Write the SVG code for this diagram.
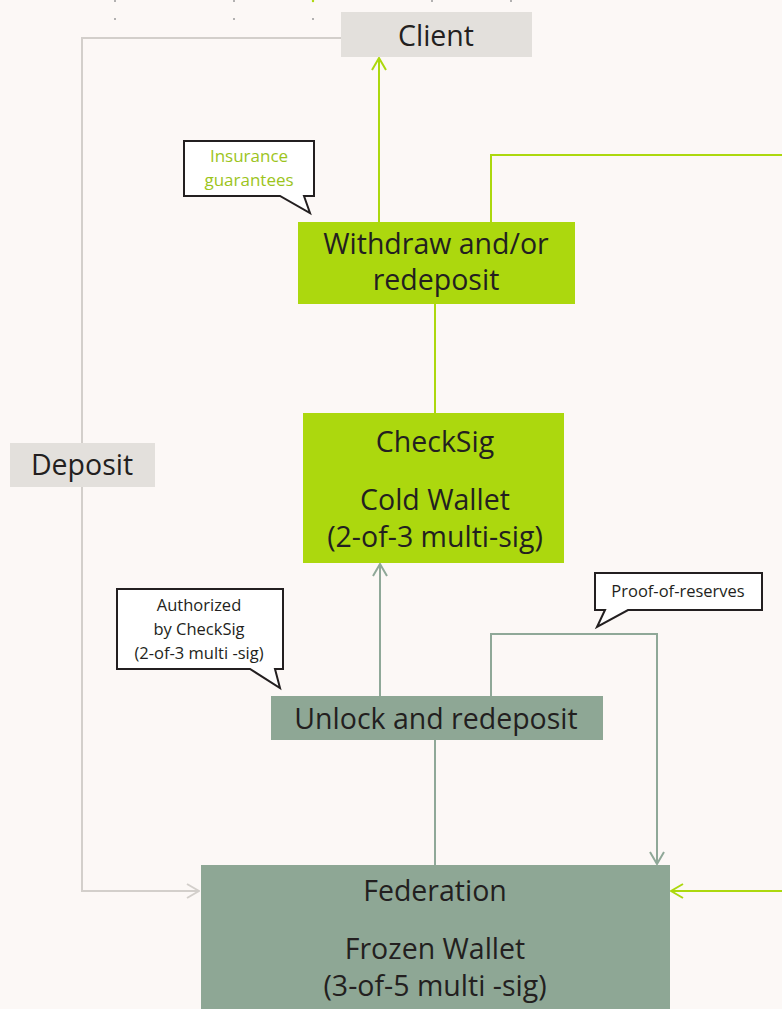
<svg xmlns="http://www.w3.org/2000/svg" width="782" height="1009" viewBox="0 0 782 1009">
<defs>
<style>
.t{font-family:"Open Sans","Noto Sans",sans-serif;fill:#231f20;text-anchor:middle}
.big{font-size:28.5px}
.sm{font-size:16.5px}
.g{fill:#9cc41c;font-size:17px}
.lime{fill:#acd80e}
.sage{fill:#8ea795}
.grey{fill:#e3e0dc}
.cl{fill:none;stroke-width:2}
.c1{stroke:#d3cfcb}
.c2{stroke:#acd80e}
.c3{stroke:#8fa898}
.call{fill:#ffffff;stroke:#231f20;stroke-width:2}
</style>
<marker id="ag" viewBox="0 0 14 16" refX="13" refY="8" markerWidth="14" markerHeight="16" markerUnits="userSpaceOnUse" orient="auto"><polyline points="1,1 13,8 1,15" fill="none" stroke="#acd80e" stroke-width="2"/></marker>
<marker id="as" viewBox="0 0 14 16" refX="13" refY="8" markerWidth="14" markerHeight="16" markerUnits="userSpaceOnUse" orient="auto"><polyline points="1,1 13,8 1,15" fill="none" stroke="#8fa898" stroke-width="2"/></marker>
<marker id="ay" viewBox="0 0 14 16" refX="13" refY="8" markerWidth="14" markerHeight="16" markerUnits="userSpaceOnUse" orient="auto"><polyline points="1,1 13,8 1,15" fill="none" stroke="#d3cfcb" stroke-width="2"/></marker>
</defs>
<rect width="782" height="1009" fill="#fcf8f6"/>
<g id="dots" fill="#9a9a9a">
<circle cx="115" cy="1" r="1"/><circle cx="234" cy="1" r="1"/><circle cx="313" cy="1" r="1.2" fill="#acd80e"/><circle cx="432" cy="1" r="1"/><circle cx="511" cy="1" r="1"/>
<circle cx="115" cy="19" r="1"/><circle cx="234" cy="19" r="1"/><circle cx="313" cy="19" r="1"/>
</g>
<g id="connectors">
<polyline class="cl c1" points="341,38 82,38 82,891 199,891" marker-end="url(#ay)"/>
<line class="cl c2" x1="379" y1="222" x2="379" y2="58" marker-end="url(#ag)"/>
<polyline class="cl c2" points="491,222 491,155 782,155"/>
<line class="cl c2" x1="782" y1="891" x2="671" y2="891" marker-end="url(#ag)"/>
<line class="cl c2" x1="435" y1="304" x2="435" y2="413"/>
<line class="cl c3" x1="380" y1="696" x2="380" y2="564" marker-end="url(#as)"/>
<polyline class="cl c3" points="491,696 491,634 657,634 657,864" marker-end="url(#as)"/>
<line class="cl c3" x1="435" y1="740" x2="435" y2="865"/>
</g>
<g id="client"><rect class="grey" x="341" y="12" width="191" height="45"/><text class="t big" x="436" y="46">Client</text></g>
<g id="deposit"><rect class="grey" x="10" y="443" width="145" height="44"/><text class="t big" x="82" y="475">Deposit</text></g>
<g id="withdraw"><rect class="lime" x="298" y="222" width="277" height="82"/><text class="t big" x="436" y="254">Withdraw and/or</text><text class="t big" x="436" y="290">redeposit</text></g>
<g id="checksig"><rect class="lime" x="303" y="413" width="261" height="150"/><text class="t big" x="435" y="452">CheckSig</text><text class="t big" x="435" y="510">Cold Wallet</text><text class="t big" x="435" y="547">(2-of-3 multi-sig)</text></g>
<g id="unlock"><rect class="sage" x="271" y="696" width="332" height="44"/><text class="t big" x="436" y="729">Unlock and redeposit</text></g>
<g id="federation"><rect class="sage" x="201" y="865" width="469" height="150"/><text class="t big" x="435" y="901">Federation</text><text class="t big" x="435" y="959">Frozen Wallet</text><text class="t big" x="435" y="996">(3-of-5 multi -sig)</text></g>
<g id="insurance"><path class="call" d="M184,141 H314 V196 H304 L310,213 L280,196 H184 Z"/><text class="t g" x="249" y="162">Insurance</text><text class="t g" x="249" y="186">guarantees</text></g>
<g id="authorized"><path class="call" d="M117,589 H283 V669 H275 L280,688 L250,669 H117 Z"/><text class="t sm" x="199" y="611">Authorized</text><text class="t sm" x="199" y="635">by CheckSig</text><text class="t sm" x="199" y="659">(2-of-3 multi -sig)</text></g>
<g id="proof"><path class="call" d="M595,573 H762 V610 H628 L597,627 L605,610 H595 Z"/><text class="t sm" x="678" y="597">Proof-of-reserves</text></g>
</svg>
